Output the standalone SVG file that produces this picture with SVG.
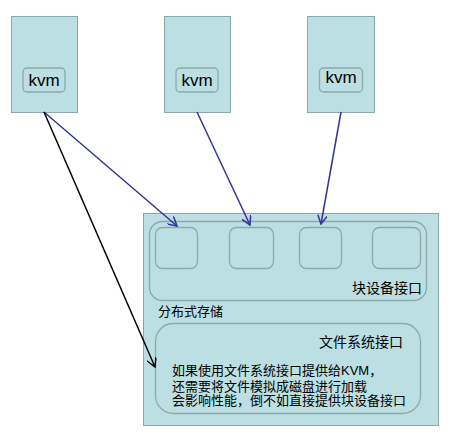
<svg xmlns="http://www.w3.org/2000/svg" width="466" height="442" viewBox="0 0 466 442">
<defs>
<style>
.box{fill:#bbdfe2;stroke:#8aa6a8;stroke-width:1}
.inner{fill:none;stroke:#8fa8aa;stroke-width:1.3}
.lbl{fill:#bbdfe2;stroke:#8fa8aa;stroke-width:1.3}
text{font-family:"Liberation Sans","Noto Sans CJK SC",sans-serif;fill:#000}
.kvm{font-size:17px;text-anchor:middle}
.cjk{font-size:14px}
.body{font-size:13px}
.blue{stroke:#333399;stroke-width:1.5;fill:none}
.black{stroke:#000;stroke-width:1.5;fill:none}
</style>
<marker id="ab" viewBox="0 0 10 10" refX="9" refY="5" markerWidth="10" markerHeight="10" markerUnits="userSpaceOnUse" orient="auto">
<path d="M0,0 L9,5 L0,10" fill="none" stroke="#333399" stroke-width="1.5"/>
</marker>
<marker id="ak" viewBox="0 0 10 10" refX="9" refY="5" markerWidth="10" markerHeight="10" markerUnits="userSpaceOnUse" orient="auto">
<path d="M0,0 L9,5 L0,10" fill="none" stroke="#000" stroke-width="1.5"/>
</marker>
</defs>
<rect width="466" height="442" fill="#fff"/>
<g id="vm1">
<rect class="box" x="11.5" y="16.5" width="66" height="96"/>
<rect class="lbl" x="23" y="68" width="42" height="24" rx="4"/>
<text class="kvm" x="44" y="86">kvm</text>
</g>
<g id="vm2">
<rect class="box" x="164.5" y="16.5" width="66" height="96"/>
<rect class="lbl" x="176" y="68" width="42" height="24" rx="4"/>
<text class="kvm" x="197" y="86">kvm</text>
</g>
<g id="vm3">
<rect class="box" x="307.5" y="16.5" width="67" height="96"/>
<rect class="lbl" x="319.5" y="68" width="43" height="24" rx="4"/>
<text class="kvm" x="341" y="83">kvm</text>
</g>
<g id="storage">
<rect class="box" x="143.5" y="213.5" width="295" height="212"/>
<text class="cjk" x="158" y="316" style="font-size:13px">分布式存储</text>
</g>
<g id="block-interface">
<rect class="inner" x="149.5" y="221.5" width="277" height="79" rx="13"/>
<text class="cjk" x="422" y="293" text-anchor="end">块设备接口</text>
</g>
<g id="blk1"><rect class="inner" x="155.5" y="227.5" width="42" height="41" rx="7"/></g>
<g id="blk2"><rect class="inner" x="229.5" y="227.5" width="44" height="41" rx="7"/></g>
<g id="blk3"><rect class="inner" x="299.5" y="227.5" width="42" height="41" rx="7"/></g>
<g id="blk4"><rect class="inner" x="372.5" y="227.5" width="48" height="41" rx="7"/></g>
<g id="file-interface">
<rect class="inner" x="155.5" y="323.5" width="265" height="90" rx="18"/>
<text class="cjk" x="403" y="347" text-anchor="end">文件系统接口</text>
<text class="body" x="172" y="375">如果使用文件系统接口提供给KVM，</text>
<text class="body" x="172" y="391">还需要将文件模拟成磁盘进行加载</text>
<text class="body" x="172" y="405">会影响性能，倒不如直接提供块设备接口</text>
</g>
<g id="connectors">
<line class="blue" x1="44" y1="112" x2="177" y2="226" marker-end="url(#ab)"/>
<line class="blue" x1="197" y1="112" x2="250" y2="225" marker-end="url(#ab)"/>
<line class="blue" x1="341" y1="112" x2="321" y2="224" marker-end="url(#ab)"/>
<line class="black" x1="44" y1="112" x2="155" y2="367" marker-end="url(#ak)"/>
</g>
</svg>
